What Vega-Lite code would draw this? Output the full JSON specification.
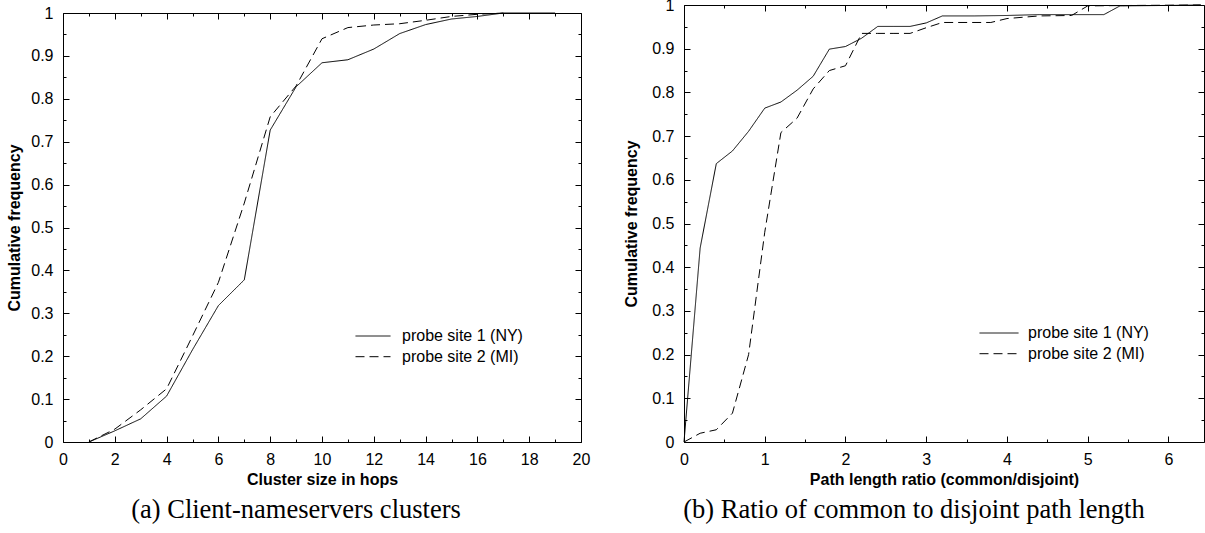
{
  "$schema": "https://vega.github.io/schema/vega-lite/v6.json",
  "autosize": {"type": "pad"},
  "padding": {"left": 6, "top": -3, "right": 0, "bottom": 0},
  "background": "white",
  "spacing": 103,
  "bounds": "flush",
  "datasets": {
    "clusters": [
      {"series": "probe site 1 (NY)", "x": 1, "y": 0},
      {"series": "probe site 1 (NY)", "x": 2, "y": 0.026},
      {"series": "probe site 1 (NY)", "x": 3, "y": 0.054},
      {"series": "probe site 1 (NY)", "x": 4, "y": 0.107},
      {"series": "probe site 1 (NY)", "x": 5, "y": 0.215},
      {"series": "probe site 1 (NY)", "x": 6, "y": 0.318},
      {"series": "probe site 1 (NY)", "x": 7, "y": 0.378},
      {"series": "probe site 1 (NY)", "x": 8, "y": 0.727},
      {"series": "probe site 1 (NY)", "x": 9, "y": 0.828},
      {"series": "probe site 1 (NY)", "x": 10, "y": 0.884},
      {"series": "probe site 1 (NY)", "x": 11, "y": 0.891},
      {"series": "probe site 1 (NY)", "x": 12, "y": 0.916},
      {"series": "probe site 1 (NY)", "x": 13, "y": 0.952},
      {"series": "probe site 1 (NY)", "x": 14, "y": 0.973},
      {"series": "probe site 1 (NY)", "x": 15, "y": 0.986},
      {"series": "probe site 1 (NY)", "x": 16, "y": 0.992},
      {"series": "probe site 1 (NY)", "x": 17, "y": 1},
      {"series": "probe site 1 (NY)", "x": 18, "y": 1},
      {"series": "probe site 1 (NY)", "x": 19, "y": 1},
      {"series": "probe site 2 (MI)", "x": 1, "y": 0},
      {"series": "probe site 2 (MI)", "x": 2, "y": 0.03},
      {"series": "probe site 2 (MI)", "x": 3, "y": 0.075},
      {"series": "probe site 2 (MI)", "x": 4, "y": 0.124},
      {"series": "probe site 2 (MI)", "x": 5, "y": 0.247},
      {"series": "probe site 2 (MI)", "x": 6, "y": 0.372},
      {"series": "probe site 2 (MI)", "x": 7, "y": 0.557},
      {"series": "probe site 2 (MI)", "x": 8, "y": 0.758},
      {"series": "probe site 2 (MI)", "x": 9, "y": 0.83},
      {"series": "probe site 2 (MI)", "x": 10, "y": 0.94},
      {"series": "probe site 2 (MI)", "x": 11, "y": 0.966},
      {"series": "probe site 2 (MI)", "x": 12, "y": 0.972},
      {"series": "probe site 2 (MI)", "x": 13, "y": 0.975},
      {"series": "probe site 2 (MI)", "x": 14, "y": 0.983},
      {"series": "probe site 2 (MI)", "x": 15, "y": 0.992},
      {"series": "probe site 2 (MI)", "x": 16, "y": 0.997},
      {"series": "probe site 2 (MI)", "x": 17, "y": 1}
    ],
    "ratio": [
      {"series": "probe site 1 (NY)", "x": 0, "y": 0},
      {"series": "probe site 1 (NY)", "x": 0.2, "y": 0.444},
      {"series": "probe site 1 (NY)", "x": 0.4, "y": 0.637},
      {"series": "probe site 1 (NY)", "x": 0.6, "y": 0.666},
      {"series": "probe site 1 (NY)", "x": 0.8, "y": 0.711},
      {"series": "probe site 1 (NY)", "x": 1.0, "y": 0.764},
      {"series": "probe site 1 (NY)", "x": 1.2, "y": 0.778},
      {"series": "probe site 1 (NY)", "x": 1.4, "y": 0.805},
      {"series": "probe site 1 (NY)", "x": 1.6, "y": 0.837},
      {"series": "probe site 1 (NY)", "x": 1.8, "y": 0.899},
      {"series": "probe site 1 (NY)", "x": 2.0, "y": 0.905},
      {"series": "probe site 1 (NY)", "x": 2.2, "y": 0.924},
      {"series": "probe site 1 (NY)", "x": 2.4, "y": 0.951},
      {"series": "probe site 1 (NY)", "x": 2.6, "y": 0.951},
      {"series": "probe site 1 (NY)", "x": 2.8, "y": 0.951},
      {"series": "probe site 1 (NY)", "x": 3.0, "y": 0.959},
      {"series": "probe site 1 (NY)", "x": 3.2, "y": 0.975},
      {"series": "probe site 1 (NY)", "x": 3.6, "y": 0.975},
      {"series": "probe site 1 (NY)", "x": 4.0, "y": 0.976},
      {"series": "probe site 1 (NY)", "x": 4.4, "y": 0.978},
      {"series": "probe site 1 (NY)", "x": 4.8, "y": 0.978},
      {"series": "probe site 1 (NY)", "x": 5.2, "y": 0.978},
      {"series": "probe site 1 (NY)", "x": 5.4, "y": 0.998},
      {"series": "probe site 1 (NY)", "x": 6.0, "y": 0.999},
      {"series": "probe site 1 (NY)", "x": 6.4, "y": 1},
      {"series": "probe site 2 (MI)", "x": 0, "y": 0},
      {"series": "probe site 2 (MI)", "x": 0.2, "y": 0.02},
      {"series": "probe site 2 (MI)", "x": 0.4, "y": 0.028},
      {"series": "probe site 2 (MI)", "x": 0.6, "y": 0.066},
      {"series": "probe site 2 (MI)", "x": 0.8, "y": 0.2},
      {"series": "probe site 2 (MI)", "x": 1.0, "y": 0.48},
      {"series": "probe site 2 (MI)", "x": 1.2, "y": 0.708},
      {"series": "probe site 2 (MI)", "x": 1.4, "y": 0.741},
      {"series": "probe site 2 (MI)", "x": 1.6, "y": 0.808},
      {"series": "probe site 2 (MI)", "x": 1.8, "y": 0.85},
      {"series": "probe site 2 (MI)", "x": 2.0, "y": 0.861},
      {"series": "probe site 2 (MI)", "x": 2.2, "y": 0.935},
      {"series": "probe site 2 (MI)", "x": 2.4, "y": 0.935},
      {"series": "probe site 2 (MI)", "x": 2.6, "y": 0.935},
      {"series": "probe site 2 (MI)", "x": 2.8, "y": 0.935},
      {"series": "probe site 2 (MI)", "x": 3.0, "y": 0.948},
      {"series": "probe site 2 (MI)", "x": 3.2, "y": 0.96},
      {"series": "probe site 2 (MI)", "x": 3.8, "y": 0.96},
      {"series": "probe site 2 (MI)", "x": 4.0, "y": 0.969},
      {"series": "probe site 2 (MI)", "x": 4.4, "y": 0.975},
      {"series": "probe site 2 (MI)", "x": 4.8, "y": 0.976},
      {"series": "probe site 2 (MI)", "x": 5.0, "y": 0.998},
      {"series": "probe site 2 (MI)", "x": 5.6, "y": 0.999},
      {"series": "probe site 2 (MI)", "x": 6.4, "y": 1}
    ]
  },
  "hconcat": [
    {
      "width": 518,
      "height": 437,
      "data": {"name": "clusters"},
      "title": {"text": "(a) Client-nameservers clusters", "orient": "bottom", "anchor": "middle", "dx": -26, "offset": 10, "font": "Liberation Serif", "fontSize": 26.5, "fontWeight": "normal", "color": "black"},
      "layer": [
        {
          "mark": {"type": "line", "color": "black", "strokeWidth": 1},
          "encoding": {
            "x": {"field": "x", "type": "quantitative",
              "scale": {"domain": [0, 20], "nice": false, "zero": false},
              "axis": {"orient": "bottom", "values": [0,1,2,3,4,5,6,7,8,9,10,11,12,13,14,15,16,17,18,19,20],
                "labelExpr": "datum.value % 2 === 0 ? format(datum.value, 'd') : ''",
                "tickSize": {"condition": {"test": "datum.value % 2 === 0", "value": -6}, "value": -3},
                "labelPadding": 15, "title": "Cluster size in hops", "titlePadding": 1}},
            "y": {"field": "y", "type": "quantitative",
              "scale": {"domain": [0, 1], "range": [437, 8], "nice": false},
              "axis": {"orient": "left", "values": [0,0.05,0.1,0.15,0.2,0.25,0.3,0.35,0.4,0.45,0.5,0.55,0.6,0.65,0.7,0.75,0.8,0.85,0.9,0.95,1],
                "labelExpr": "round(datum.value*100) % 10 === 0 ? format(datum.value, '~g') : ''",
                "tickSize": {"condition": {"test": "round(datum.value*100) % 10 === 0", "value": -6}, "value": -3},
                "labelPadding": 16, "title": "Cumulative frequency", "titlePadding": 8}},
            "strokeDash": {"field": "series", "type": "nominal",
              "scale": {"domain": ["probe site 1 (NY)", "probe site 2 (MI)"], "range": [[1, 0], [9, 5]]},
              "legend": {"orient": "none", "legendX": 292, "legendY": 322, "title": null, "symbolType": "stroke", "symbolSize": 1225, "symbolStrokeColor": "black", "symbolStrokeWidth": 1, "labelFontSize": 16, "labelFont": "Liberation Sans", "labelColor": "black", "labelOffset": 11, "clipHeight": 18, "rowPadding": 2.7, "padding": 0}}
          }
        },
        {
          "mark": {"type": "line", "strokeOpacity": 0},
          "encoding": {
            "x": {"field": "x", "type": "quantitative",
              "axis": {"orient": "top", "offset": -8, "values": [0,1,2,3,4,5,6,7,8,9,10,11,12,13,14,15,16,17,18,19,20], "labels": false, "title": null,
                "tickSize": {"condition": {"test": "datum.value % 2 === 0", "value": -6}, "value": -3}}},
            "y": {"field": "y", "type": "quantitative",
              "axis": {"orient": "right", "values": [0,0.05,0.1,0.15,0.2,0.25,0.3,0.35,0.4,0.45,0.5,0.55,0.6,0.65,0.7,0.75,0.8,0.85,0.9,0.95,1], "labels": false, "title": null,
                "tickSize": {"condition": {"test": "round(datum.value*100) % 10 === 0", "value": -6}, "value": -3}}},
            "detail": {"field": "series", "type": "nominal"}
          }
        }
      ],
      "resolve": {"axis": {"x": "independent", "y": "independent"}}
    },
    {
      "width": 520,
      "height": 437,
      "data": {"name": "ratio"},
      "title": {"text": "(b) Ratio of common to disjoint path length", "orient": "bottom", "anchor": "middle", "dx": -30, "offset": 10, "font": "Liberation Serif", "fontSize": 26.5, "fontWeight": "normal", "color": "black"},
      "layer": [
        {
          "mark": {"type": "line", "color": "black", "strokeWidth": 1},
          "encoding": {
            "x": {"field": "x", "type": "quantitative",
              "scale": {"domain": [0, 6.44], "nice": false, "zero": false},
              "axis": {"orient": "bottom", "values": [0,0.5,1,1.5,2,2.5,3,3.5,4,4.5,5,5.5,6],
                "labelExpr": "datum.value % 1 === 0 ? format(datum.value, 'd') : ''",
                "tickSize": {"condition": {"test": "datum.value % 1 === 0", "value": -6}, "value": -3},
                "labelPadding": 15, "title": "Path length ratio (common/disjoint)", "titlePadding": 1}},
            "y": {"field": "y", "type": "quantitative",
              "scale": {"domain": [0, 1], "nice": false},
              "axis": {"orient": "left", "values": [0,0.05,0.1,0.15,0.2,0.25,0.3,0.35,0.4,0.45,0.5,0.55,0.6,0.65,0.7,0.75,0.8,0.85,0.9,0.95,1],
                "labelExpr": "round(datum.value*100) % 10 === 0 ? format(datum.value, '~g') : ''",
                "tickSize": {"condition": {"test": "round(datum.value*100) % 10 === 0", "value": -6}, "value": -3},
                "labelPadding": 16, "title": "Cumulative frequency", "titlePadding": 12}},
            "strokeDash": {"field": "series", "type": "nominal",
              "scale": {"domain": ["probe site 1 (NY)", "probe site 2 (MI)"], "range": [[1, 0], [9, 5]]},
              "legend": {"orient": "none", "legendX": 295, "legendY": 319, "title": null, "symbolType": "stroke", "symbolSize": 1521, "symbolStrokeColor": "black", "symbolStrokeWidth": 1, "labelFontSize": 16, "labelFont": "Liberation Sans", "labelColor": "black", "labelOffset": 9, "clipHeight": 18, "rowPadding": 2.7, "padding": 0}}
          }
        },
        {
          "mark": {"type": "line", "strokeOpacity": 0},
          "encoding": {
            "x": {"field": "x", "type": "quantitative",
              "axis": {"orient": "top", "values": [0,0.5,1,1.5,2,2.5,3,3.5,4,4.5,5,5.5,6], "labels": false, "title": null,
                "tickSize": {"condition": {"test": "datum.value % 1 === 0", "value": -6}, "value": -3}}},
            "y": {"field": "y", "type": "quantitative",
              "axis": {"orient": "right", "values": [0,0.05,0.1,0.15,0.2,0.25,0.3,0.35,0.4,0.45,0.5,0.55,0.6,0.65,0.7,0.75,0.8,0.85,0.9,0.95,1], "labels": false, "title": null,
                "tickSize": {"condition": {"test": "round(datum.value*100) % 10 === 0", "value": -6}, "value": -3}}},
            "detail": {"field": "series", "type": "nominal"}
          }
        }
      ],
      "resolve": {"axis": {"x": "independent", "y": "independent"}}
    }
  ],
  "resolve": {"legend": {"strokeDash": "independent"}},
  "config": {
    "view": {"stroke": null},
    "axis": {"domainColor": "black", "domainWidth": 1, "tickColor": "black", "tickWidth": 1, "labelColor": "black", "labelFont": "Liberation Sans", "labelFontSize": 16, "titleFont": "Liberation Sans", "titleFontSize": 16, "titleFontWeight": "bold", "titleColor": "black", "grid": false, "labelFlush": false, "labelOverlap": false, "labelBound": false}
  }
}
